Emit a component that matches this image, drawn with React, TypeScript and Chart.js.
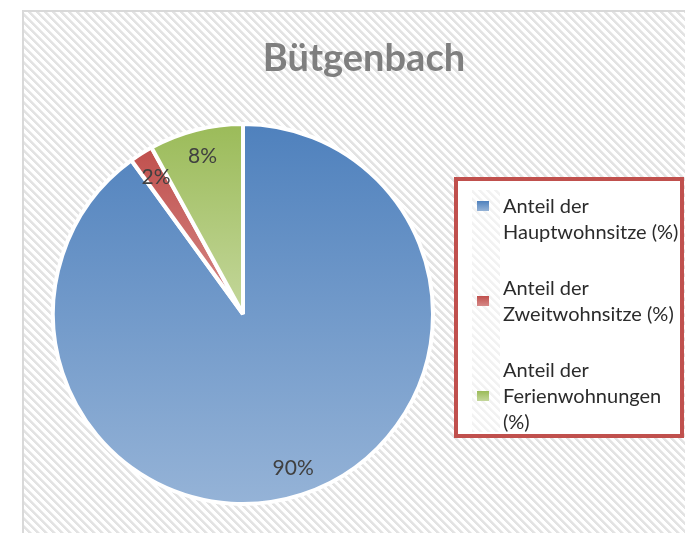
import { useEffect, useRef } from "react";
import { Chart, PieController, ArcElement } from "chart.js";

Chart.register(PieController, ArcElement);

// ---- data -------------------------------------------------------------
const chartTitle = "Bütgenbach";
const seriesLabels: string[][] = [
  ["Anteil der", "Hauptwohnsitze (%)"],
  ["Anteil der", "Zweitwohnsitze (%)"],
  ["Anteil der", "Ferienwohnungen", "(%)"],
];
const shareValues = [90, 2, 8];
const valueLabels = shareValues.map((v) => `${v}%`);

// ---- styling ----------------------------------------------------------
const shadeTop = ["#4f81bd", "#c0504d", "#9bbb59"];
const shadeBottom = ["#95b3d7", "#d68a88", "#c4d79b"];
const markerLine = [0, 0.5, 1];
const PIE_RADIUS = 190;
const FONT = "Lato, 'Open Sans', 'DejaVu Sans', sans-serif";

function sliceAngles(i: number): [number, number] {
  const total = shareValues.reduce((a, b) => a + b, 0);
  const before = shareValues.slice(0, i).reduce((a, b) => a + b, 0);
  const a0 = -Math.PI / 2 + (2 * Math.PI * before) / total;
  const a1 = a0 + (2 * Math.PI * shareValues[i]) / total;
  return [a0, a1];
}

function sliceYRange(cy: number, r: number, a0: number, a1: number): [number, number] {
  const angles = [a0, a1];
  for (let k = -4; k <= 8; k++) {
    const a = (k * Math.PI) / 2;
    if (a > a0 && a < a1) angles.push(a);
  }
  let top = cy;
  let bottom = cy;
  for (const a of angles) {
    const y = cy + r * Math.sin(a);
    top = Math.min(top, y);
    bottom = Math.max(bottom, y);
  }
  return [top, bottom];
}

function hatchPattern(ctx: CanvasRenderingContext2D): CanvasPattern | string {
  const tile = document.createElement("canvas");
  tile.width = 8;
  tile.height = 8;
  const t = tile.getContext("2d");
  if (!t) return "#f2f2f2";
  t.fillStyle = "#ffffff";
  t.fillRect(0, 0, 8, 8);
  for (let y = 0; y < 8; y++) {
    for (let x = 0; x < 8; x++) {
      const d = (((x - y) % 8) + 8) % 8;
      if (d < 3) {
        t.fillStyle = "#e3e3e3";
        t.fillRect(x, y, 1, 1);
      } else if (d === 3) {
        t.fillStyle = "#efefef";
        t.fillRect(x, y, 1, 1);
      }
    }
  }
  return ctx.createPattern(tile, "repeat") || "#f2f2f2";
}

const backdropPlugin = {
  id: "backdrop",
  beforeDraw(chart: Chart) {
    const { ctx, width, height } = chart;
    ctx.save();
    ctx.fillStyle = "#ffffff";
    ctx.fillRect(0, 0, width, height);
    ctx.fillStyle = hatchPattern(ctx);
    ctx.fillRect(24, 12, width - 24, height - 12);
    ctx.strokeStyle = "#d9d9d9";
    ctx.lineWidth = 2;
    ctx.beginPath();
    ctx.moveTo(23, height);
    ctx.lineTo(23, 11);
    ctx.lineTo(width, 11);
    ctx.stroke();
    ctx.restore();
  },
};

const overlayPlugin = {
  id: "overlay",
  afterDraw(chart: Chart) {
    const { ctx } = chart;
    ctx.save();

    // title
    ctx.fillStyle = "#7f7f7f";
    ctx.font = `bold 38px ${FONT}`;
    ctx.textAlign = "center";
    ctx.textBaseline = "alphabetic";
    ctx.fillText(chartTitle, 364, 71);

    // value labels inside the slices
    const meta = chart.getDatasetMeta(0);
    ctx.font = `21px ${FONT}`;
    ctx.fillStyle = "#404040";
    ctx.textBaseline = "middle";
    meta.data.forEach((el: any, i: number) => {
      const p = el.getProps(["x", "y", "startAngle", "endAngle", "outerRadius"], true);
      const mid = (p.startAngle + p.endAngle) / 2;
      const d = p.outerRadius * 0.855;
      ctx.fillText(valueLabels[i], p.x + Math.cos(mid) * d, p.y + Math.sin(mid) * d);
    });

    // legend
    const box = { x: 456, y: 179, w: 226, h: 257 };
    ctx.fillStyle = "#ffffff";
    ctx.fillRect(box.x, box.y, box.w, box.h);
    ctx.globalAlpha = 0.45;
    ctx.fillStyle = hatchPattern(ctx);
    ctx.fillRect(472, 190, 28, 242);
    ctx.globalAlpha = 1;
    ctx.strokeStyle = "#c0504d";
    ctx.lineWidth = 4;
    ctx.strokeRect(box.x, box.y, box.w, box.h);

    const lineH = 26;
    const itemGap = 30;
    let baseline = 213;
    ctx.font = `20px ${FONT}`;
    ctx.textAlign = "left";
    ctx.textBaseline = "alphabetic";
    seriesLabels.forEach((lines, i) => {
      const my = baseline - 7 + markerLine[i] * lineH;
      const g = ctx.createLinearGradient(0, my - 5, 0, my + 5);
      g.addColorStop(0, shadeTop[i]);
      g.addColorStop(1, shadeBottom[i]);
      ctx.fillStyle = g;
      ctx.fillRect(477, my - 5, 12, 10);
      ctx.fillStyle = "#2b2b2b";
      lines.forEach((ln, k) => ctx.fillText(ln, 503, baseline + k * lineH));
      baseline += lines.length * lineH + itemGap;
    });

    ctx.restore();
  },
};

export default function App() {
  const canvasRef = useRef<HTMLCanvasElement | null>(null);

  useEffect(() => {
    const canvas = canvasRef.current;
    if (!canvas) return;

    const sliceFill = (c: any) => {
      const i = c.dataIndex;
      if (i === undefined) return shadeTop[0];
      const area = c.chart.chartArea;
      if (!area) return shadeTop[i];
      const cy = (area.top + area.bottom) / 2;
      const [a0, a1] = sliceAngles(i);
      const [top, bottom] = sliceYRange(cy, PIE_RADIUS, a0, a1);
      const g = c.chart.ctx.createLinearGradient(0, top, 0, bottom);
      g.addColorStop(0, shadeTop[i]);
      g.addColorStop(1, shadeBottom[i]);
      return g;
    };

    const chart = new Chart(canvas, {
      type: "pie",
      data: {
        labels: seriesLabels.map((l) => l.join(" ")),
        datasets: [
          {
            data: shareValues,
            backgroundColor: sliceFill,
            borderColor: "#ffffff",
            borderWidth: 4,
            borderAlign: "center",
            clip: false,
          } as any,
        ],
      },
      options: {
        responsive: false,
        animation: false,
        devicePixelRatio: 1,
        radius: PIE_RADIUS,
        rotation: 0,
        layout: { padding: { left: 55, right: 254, top: 126, bottom: 31 } },
        plugins: {
          legend: { display: false },
          tooltip: { enabled: false },
        } as any,
        events: [],
      } as any,
      plugins: [backdropPlugin, overlayPlugin],
    });

    const fontsReady = (document as any).fonts;
    if (fontsReady && fontsReady.load) {
      Promise.all([
        fontsReady.load(`20px Lato`),
        fontsReady.load(`bold 38px Lato`),
      ])
        .then(() => chart.draw())
        .catch(() => undefined);
    }

    return () => chart.destroy();
  }, []);

  return (
    <div style={{ position: "fixed", left: 0, top: 0, width: 685, height: 533, background: "#ffffff" }}>
      <canvas ref={canvasRef} width={685} height={533} style={{ width: 685, height: 533, display: "block" }} />
    </div>
  );
}
